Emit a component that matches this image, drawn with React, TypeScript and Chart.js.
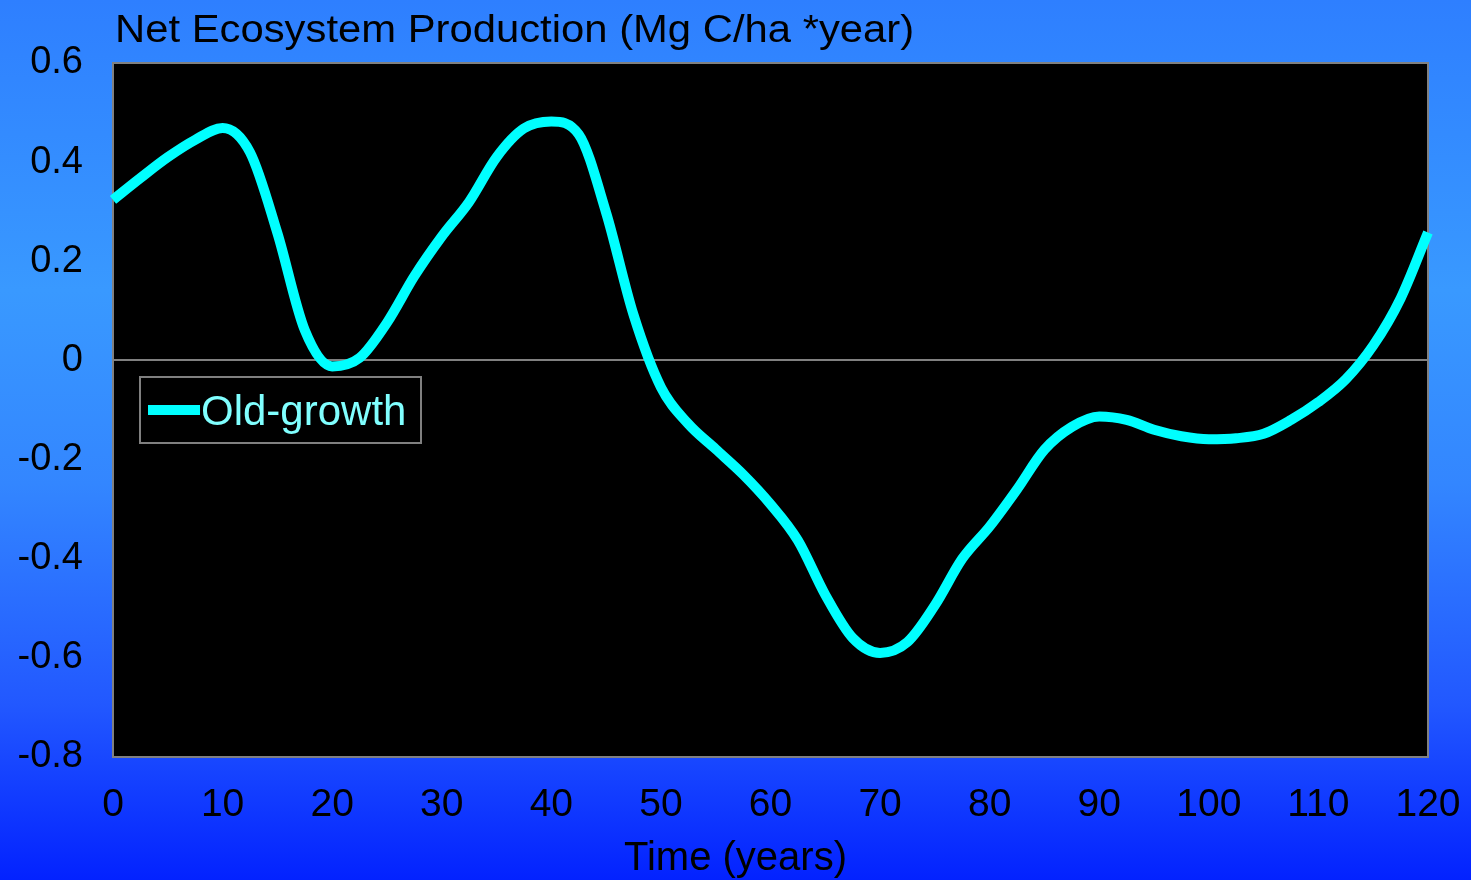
import { useEffect, useRef } from "react";
import { Chart, registerables } from "chart.js";

Chart.register(...registerables);

// ---- data ----
const years = [
  0, 2.5, 5, 7.5, 10, 12.5, 15, 17.5, 20, 22.5, 25, 27.5, 30, 32.5, 35, 37.5, 40,
  42.5, 45, 47.5, 50, 52.5, 55, 57.5, 60, 62.5, 65, 67.5, 70, 72.5, 75, 77.5, 80,
  82.5, 85, 87.5, 90, 92.5, 95, 97.5, 100, 102.5, 105, 107.5, 110, 112.5, 115, 117.5, 120,
];
const oldGrowth = [
  0.324, 0.368, 0.41, 0.445, 0.469, 0.42, 0.257, 0.061, -0.012, 0.005, 0.076, 0.17, 0.25,
  0.32, 0.41, 0.468, 0.482, 0.456, 0.298, 0.092, -0.054, -0.128, -0.179, -0.23, -0.29,
  -0.363, -0.473, -0.56, -0.59, -0.568, -0.494, -0.4, -0.335, -0.26, -0.18, -0.134,
  -0.113, -0.12, -0.14, -0.153, -0.159, -0.157, -0.148, -0.12, -0.084, -0.038, 0.03,
  0.125, 0.258,
];
const seriesLabel = "Old-growth";
const chartTitle = "Net Ecosystem Production (Mg C/ha *year)";
const xAxisTitle = "Time (years)";
const xMin = 0;
const xMax = 120;
const xStep = 10;
const yMin = -0.8;
const yMax = 0.6;
const yStep = 0.2;

const FONT = "'Liberation Sans', Arial, Helvetica, sans-serif";
const LINE_COLOR = "#00ffff";

const decorPlugin = {
  id: "decor",
  beforeDraw(chart: any) {
    const { ctx, width, height, chartArea } = chart;
    ctx.save();
    const g = ctx.createLinearGradient(0, 0, 0, height);
    g.addColorStop(0, "#2e7fff");
    g.addColorStop(0.33, "#3999ff");
    g.addColorStop(0.55, "#3386ff");
    g.addColorStop(0.8, "#2258ff");
    g.addColorStop(1, "#0322ff");
    ctx.fillStyle = g;
    ctx.fillRect(0, 0, width, height);
    ctx.fillStyle = "#000000";
    ctx.fillRect(chartArea.left, chartArea.top, chartArea.right - chartArea.left, chartArea.bottom - chartArea.top);
    ctx.restore();
  },
  beforeDatasetsDraw(chart: any) {
    const { ctx, chartArea } = chart;
    ctx.save();
    ctx.strokeStyle = "#808080";
    ctx.lineWidth = 2;
    ctx.strokeRect(chartArea.left, chartArea.top, chartArea.right - chartArea.left, chartArea.bottom - chartArea.top);
    ctx.restore();
  },
  afterDatasetsDraw(chart: any) {
    const { ctx, chartArea, width } = chart;
    ctx.save();
    // title
    ctx.fillStyle = "#000000";
    ctx.font = `38px ${FONT}`;
    ctx.textAlign = "left";
    ctx.textBaseline = "alphabetic";
    ctx.save();
    ctx.translate(chartArea.left + 2, 42);
    ctx.scale(1.1, 1);
    ctx.fillText(chartTitle, 0, 0);
    ctx.restore();
    // x axis title
    ctx.font = `40px ${FONT}`;
    ctx.textAlign = "center";
    ctx.fillText(xAxisTitle, width / 2, 870);
    // legend
    const lx = chartArea.left + 27;
    const ly = chartArea.top + 314;
    const lw = 281;
    const lh = 66;
    ctx.fillStyle = "#000000";
    ctx.fillRect(lx, ly, lw, lh);
    ctx.strokeStyle = "#808080";
    ctx.lineWidth = 2;
    ctx.strokeRect(lx, ly, lw, lh);
    ctx.strokeStyle = LINE_COLOR;
    ctx.lineWidth = 10;
    ctx.beginPath();
    ctx.moveTo(lx + 8, ly + lh / 2);
    ctx.lineTo(lx + 60, ly + lh / 2);
    ctx.stroke();
    ctx.fillStyle = "#80ffff";
    ctx.font = `42px ${FONT}`;
    ctx.textAlign = "left";
    ctx.fillText(seriesLabel, lx + 61, ly + 48);
    ctx.restore();
  },
};

export default function App() {
  const ref = useRef<HTMLCanvasElement | null>(null);
  useEffect(() => {
    document.body.style.margin = "0";
    const canvas = ref.current;
    if (!canvas) return;
    const chart = new Chart(canvas, {
      type: "line",
      data: {
        datasets: [
          {
            label: seriesLabel,
            data: years.map((x, i) => ({ x, y: oldGrowth[i] })),
            borderColor: LINE_COLOR,
            backgroundColor: LINE_COLOR,
            borderWidth: 10,
            pointRadius: 0,
            cubicInterpolationMode: "monotone",
            fill: false,
            clip: false as any,
          },
        ],
      },
      options: {
        responsive: false,
        animation: false,
        events: [],
        layout: { padding: { top: 63, right: 43, left: 0, bottom: 0 } },
        plugins: {
          legend: { display: false },
          title: { display: false },
          tooltip: { enabled: false },
        },
        scales: {
          x: {
            type: "linear",
            min: xMin,
            max: xMax,
            afterFit: (s: any) => {
              s.height = 123;
              s.paddingLeft = 0;
              s.paddingRight = 0;
            },
            ticks: {
              stepSize: xStep,
              color: "#000000",
              font: { family: FONT, size: 39 },
              padding: 25,
              maxRotation: 0,
              autoSkip: false,
            },
            grid: { display: false, drawTicks: false },
            border: { display: false },
          },
          y: {
            type: "linear",
            min: yMin,
            max: yMax,
            afterFit: (s: any) => {
              s.width = 113;
              s.paddingTop = 0;
              s.paddingBottom = 0;
            },
            ticks: {
              stepSize: yStep,
              color: "#000000",
              font: { family: FONT, size: 38 },
              padding: 30,
              callback: (v: any) => (Math.abs(Number(v)) < 1e-9 ? "0" : Number(v).toFixed(1)),
            },
            grid: {
              drawTicks: false,
              lineWidth: 2,
              color: (c: any) => (c.tick && Math.abs(c.tick.value) < 1e-9 ? "#808080" : "rgba(0,0,0,0)"),
            },
            border: { display: false },
          },
        },
      },
      plugins: [decorPlugin],
    });
    return () => chart.destroy();
  }, []);
  return <canvas ref={ref} width={1471} height={880} style={{ display: "block" }} />;
}
